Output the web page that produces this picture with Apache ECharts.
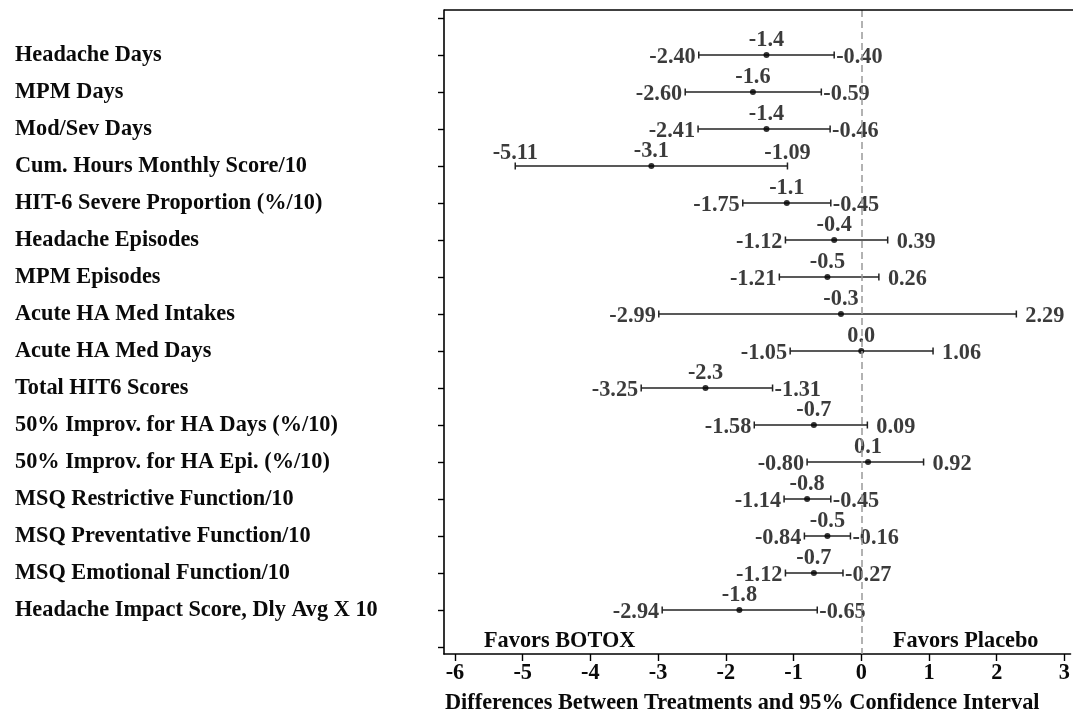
<!DOCTYPE html>
<html><head><meta charset="utf-8">
<script src="https://cdn.jsdelivr.net/npm/echarts@6/dist/echarts.min.js"></script>
<style>html,body{margin:0;padding:0;background:#fff}#c{width:1073px;height:715px}</style>
</head><body><div id="c"></div>
<script>
const categories = [
  'Headache Days','MPM Days','Mod/Sev Days','Cum. Hours Monthly Score/10',
  'HIT-6 Severe Proportion (%/10)','Headache Episodes','MPM Episodes',
  'Acute HA Med Intakes','Acute HA Med Days','Total HIT6 Scores',
  '50% Improv. for HA Days (%/10)','50% Improv. for HA Epi. (%/10)',
  'MSQ Restrictive Function/10','MSQ Preventative Function/10',
  'MSQ Emotional Function/10','Headache Impact Score, Dly Avg X 10'
];
const estimates = [-1.4,-1.6,-1.4,-3.1,-1.1,-0.4,-0.5,-0.3,0.0,-2.3,-0.7,0.1,-0.8,-0.5,-0.7,-1.8];
const lowers    = [-2.40,-2.60,-2.41,-5.11,-1.75,-1.12,-1.21,-2.99,-1.05,-3.25,-1.58,-0.80,-1.14,-0.84,-1.12,-2.94];
const uppers    = [-0.40,-0.59,-0.46,-1.09,-0.45,0.39,0.26,2.29,1.06,-1.31,0.09,0.92,-0.45,-0.16,-0.27,-0.65];
const xTicks = [-6,-5,-4,-3,-2,-1,0,1,2,3];
const rowsWithLabelsAbove = ['Cum. Hours Monthly Score/10'];

const FONT = '"Liberation Serif","Times New Roman",serif';
const FS = 22.3;
const TXT = '#0a0a0a';
const rowIdx = categories.map((c, i) => i + 1);
const yTicks = [0].concat(rowIdx, [categories.length + 1]);

const chart = echarts.init(document.getElementById('c'), null, {renderer: 'canvas'});

const txt = {fontFamily: FONT, fontWeight: 'bold', fontSize: FS, color: TXT};

const ciData = categories.map((c, i) => [rowIdx[i], lowers[i], uppers[i]]);
const estData = categories.map((c, i) => ({
  value: [estimates[i], rowIdx[i]],
  label: {formatter: estimates[i].toFixed(1)}
}));
const lowData = categories.map((c, i) => {
  const above = rowsWithLabelsAbove.includes(c);
  return {
    value: [lowers[i], rowIdx[i]],
    label: above ? {position: 'top', distance: 4, formatter: lowers[i].toFixed(2)}
                 : {position: 'left', distance: 3, formatter: lowers[i].toFixed(2)}
  };
});
const highData = categories.map((c, i) => {
  const above = rowsWithLabelsAbove.includes(c);
  return {
    value: [uppers[i], rowIdx[i]],
    label: above ? {position: 'top', distance: 4, formatter: uppers[i].toFixed(2)}
                 : {position: 'right', distance: uppers[i] >= 0 ? 9 : 2, formatter: uppers[i].toFixed(2)}
  };
});

const option = {
  animation: false,
  backgroundColor: '#fff',
  grid: {left: 444, right: 0, top: 10, bottom: 61, show: false},
  xAxis: {
    type: 'value', min: -6.162, max: 3.09,
    axisLine: {show: true, onZero: false, lineStyle: {color: '#000', width: 1.6}},
    axisTick: {show: true, length: 7, customValues: xTicks, lineStyle: {color: '#000', width: 1.4}},
    axisLabel: Object.assign({customValues: xTicks, margin: 8, formatter: v => String(v)}, txt),
    splitLine: {show: false}
  },
  yAxis: {
    type: 'value', inverse: true, min: -0.216, max: 17.189,
    axisLine: {show: true, onZero: false, lineStyle: {color: '#000', width: 1.6}},
    axisTick: {show: true, length: 6, customValues: yTicks, lineStyle: {color: '#000', width: 1.4}},
    axisLabel: Object.assign({customValues: rowIdx, align: 'left', margin: 429, padding: [4, 0, 0, 0],
      formatter: v => categories[Math.round(v) - 1] || ''}, txt),
    splitLine: {show: false}
  },
  graphic: [
    {type: 'line', shape: {x1: 444, y1: 10, x2: 1073, y2: 10}, style: {stroke: '#000', lineWidth: 1.6}, z: 10},
    {type: 'text', x: 484, y: 641, style: {text: 'Favors BOTOX', font: `bold ${FS}px ${FONT}`, fill: TXT, textVerticalAlign: 'middle'}},
    {type: 'text', x: 893, y: 641, style: {text: 'Favors Placebo', font: `bold ${FS}px ${FONT}`, fill: TXT, textVerticalAlign: 'middle'}},
    {type: 'text', x: 445, y: 703, style: {text: 'Differences Between Treatments and 95% Confidence Interval', font: `bold ${FS}px ${FONT}`, fill: TXT, textVerticalAlign: 'middle'}}
  ],
  series: [
    {
      type: 'custom', name: 'ci', data: ciData,
      encode: {x: [1, 2], y: 0},
      renderItem: (params, api) => {
        const y = api.value(0);
        const p1 = api.coord([api.value(1), y]);
        const p2 = api.coord([api.value(2), y]);
        const h = 3.5;
        const st = {stroke: '#222', lineWidth: 1.5};
        return {type: 'group', children: [
          {type: 'line', shape: {x1: p1[0], y1: p1[1], x2: p2[0], y2: p2[1]}, style: st},
          {type: 'line', shape: {x1: p1[0], y1: p1[1] - h, x2: p1[0], y2: p1[1] + h}, style: st},
          {type: 'line', shape: {x1: p2[0], y1: p2[1] - h, x2: p2[0], y2: p2[1] + h}, style: st}
        ]};
      },
      markLine: {
        silent: true, symbol: 'none', label: {show: false},
        lineStyle: {color: '#999', type: [7, 4], width: 1.5},
        data: [{xAxis: 0}]
      },
      z: 3
    },
    {
      type: 'scatter', name: 'est', data: estData, symbol: 'circle', symbolSize: 6,
      itemStyle: {color: '#000'},
      label: Object.assign({show: true, position: 'top', distance: 2, offset: [0, 1]}, txt),
      z: 4
    },
    {
      type: 'scatter', name: 'low', data: lowData, symbolSize: 0,
      itemStyle: {color: 'transparent'},
      label: Object.assign({show: true, offset: [0, 2]}, txt), z: 4
    },
    {
      type: 'scatter', name: 'high', data: highData, symbolSize: 0,
      itemStyle: {color: 'transparent'},
      label: Object.assign({show: true, offset: [0, 2]}, txt), z: 4
    }
  ]
};
chart.setOption(option);
</script>
</body></html>
